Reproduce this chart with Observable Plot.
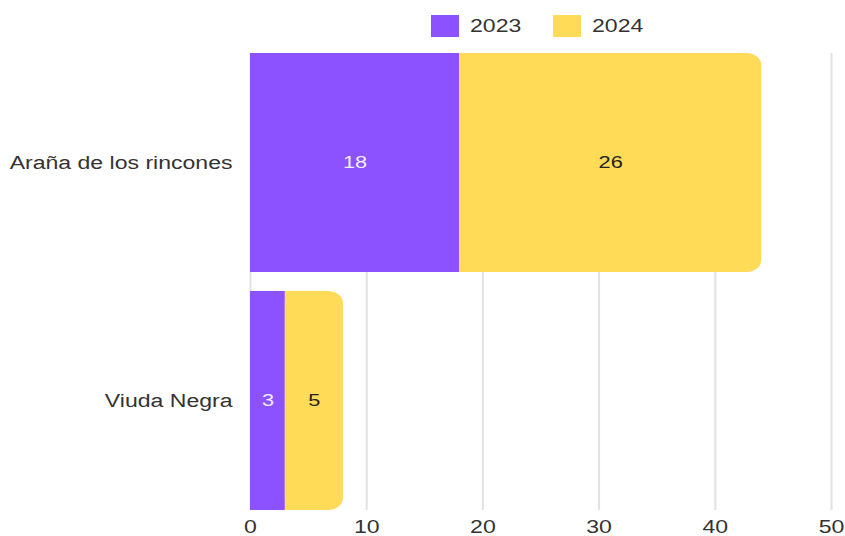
<!DOCTYPE html>
<html>
<head>
<meta charset="utf-8">
<script src="https://cdn.jsdelivr.net/npm/d3@7"></script>
<script src="https://cdn.jsdelivr.net/npm/@observablehq/plot@0.6"></script>
<style>
  html, body { margin: 0; padding: 0; background: #fff; }
  body { width: 845px; height: 536px; overflow: hidden; font-family: "Liberation Sans", Arial, sans-serif; }
  #legend { position: relative; width: 845px; height: 48px; }
  .sw { position: absolute; top: 15px; width: 28px; height: 22px; }
  .lt { position: absolute; top: 15px; line-height: 22px; font-size: 18px; color: #333;
        display: inline-block; transform: scaleX(1.28); transform-origin: left center; }
</style>
</head>
<body>
<div id="legend"></div>
<div id="chart"></div>
<script>
const categories = ["Araña de los rincones", "Viuda Negra"];
const seriesNames = ["2023", "2024"];
const values2023 = [18, 3];
const values2024 = [26, 5];
const seriesColors = ["#8C52FF", "#FFDB58"];
const labelColors = ["#f2eeff", "#222222"];
const xTicks = [0, 10, 20, 30, 40, 50];

const seriesValues = [values2023, values2024];
const rows = [];
categories.forEach((cat, i) => {
  let start = 0;
  seriesNames.forEach((s, j) => {
    const v = seriesValues[j][i];
    rows.push({cat, series: s, value: v, x1: start, x2: start + v, last: j === seriesNames.length - 1, j});
    start += v;
  });
});

// Legend (HTML)
const legend = document.getElementById("legend");
const legendPos = [{sw: 431, tx: 470}, {sw: 553, tx: 592}];
seriesNames.forEach((s, j) => {
  const sw = document.createElement("div");
  sw.className = "sw";
  sw.style.left = legendPos[j].sw + "px";
  sw.style.background = seriesColors[j];
  legend.appendChild(sw);
  const t = document.createElement("span");
  t.className = "lt";
  t.style.left = legendPos[j].tx + "px";
  t.textContent = s;
  legend.appendChild(t);
});

const chart = Plot.plot({
  width: 845,
  height: 488,
  marginTop: 5,
  marginBottom: 26,
  marginLeft: 250,
  marginRight: 14,
  style: {fontFamily: "Liberation Sans, Arial, sans-serif", fontSize: "18px", color: "#333", background: "#fff"},
  x: {domain: [0, 50], ticks: xTicks},
  y: {domain: categories, paddingInner: 0.08, paddingOuter: 0},
  color: {domain: seriesNames, range: seriesColors},
  marks: [
    Plot.gridX(xTicks, {stroke: "#e2e2e2", strokeOpacity: 1, strokeWidth: 2}),
    Plot.barX(rows.filter(d => !d.last), {x1: "x1", x2: "x2", y: "cat", fill: "series"}),
    Plot.barX(rows.filter(d => d.last), {x1: "x1", x2: "x2", y: "cat", fill: "series", rx: 15, ry: 12}),
    Plot.barX(rows.filter(d => d.last), {x1: "x1", x2: d => (d.x1 + d.x2) / 2, y: "cat", fill: "series"}),
    Plot.text(rows, {
      x: d => (d.x1 + d.x2) / 2, y: "cat", text: d => String(d.value),
      fill: d => labelColors[d.j], fontSize: 17
    }),
    Plot.axisY({tickSize: 0, tickPadding: 18, fontSize: 18, label: null}),
    Plot.axisX({ticks: xTicks, tickSize: 0, tickPadding: 10, fontSize: 18, label: null})
  ]
});
document.getElementById("chart").appendChild(chart);

// Horizontal stretch of text glyphs to match the reference
const stretch = 1.28;
chart.querySelectorAll("text").forEach(t => {
  const len = t.getComputedTextLength();
  if (len > 0) {
    t.setAttribute("textLength", (len * stretch).toFixed(2));
    t.setAttribute("lengthAdjust", "spacingAndGlyphs");
  }
});
</script>
</body>
</html>
